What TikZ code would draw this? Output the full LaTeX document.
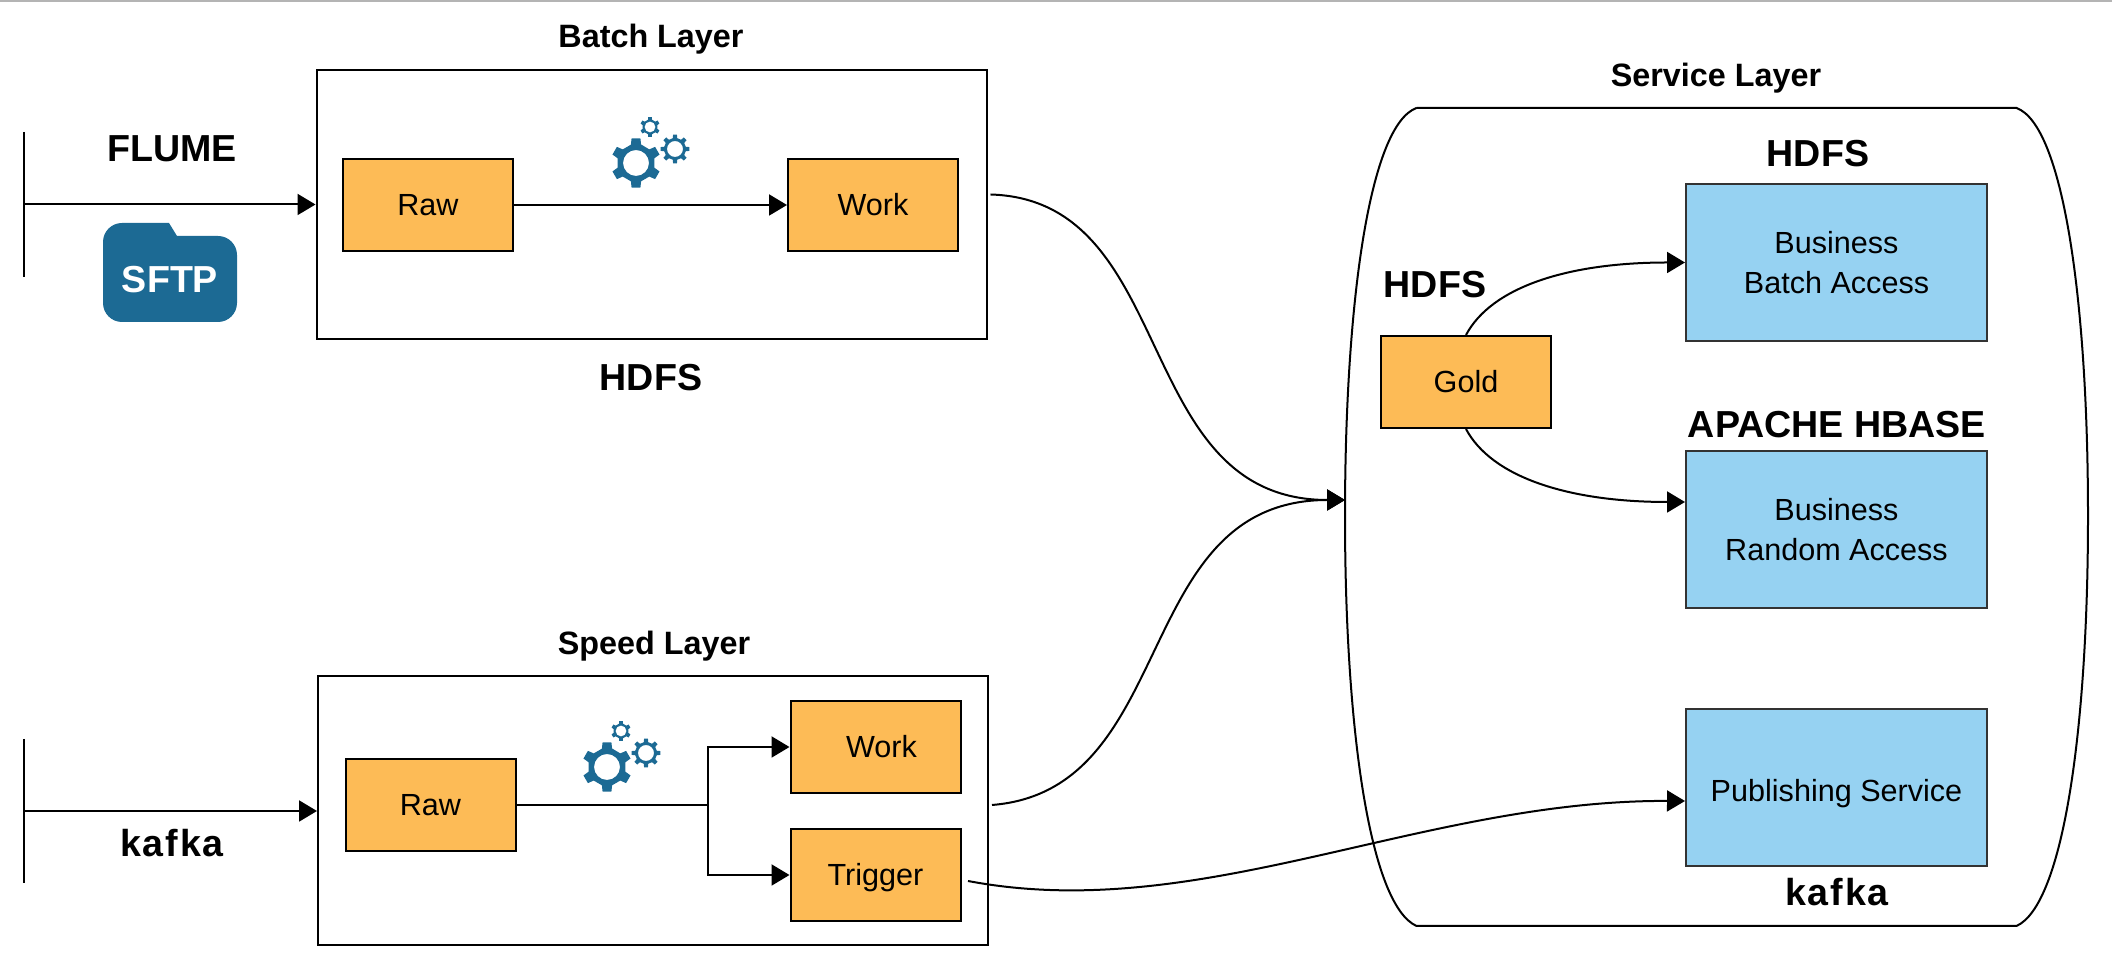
\documentclass[tikz,border=0pt]{standalone}
\usepackage{fontspec}
\setmainfont{Liberation Sans}
\usetikzlibrary{positioning, arrows.meta}

\definecolor{stageorange}{HTML}{FDBB56}
\definecolor{accessblue}{HTML}{96D2F2}
\definecolor{iconblue}{HTML}{1C6A94}
\definecolor{toprule}{HTML}{B4B4B4}

% one gear: teeth, tip radius, root radius, hole radius
\newcommand{\drawgear}[4]{
    \fill[iconblue, even odd rule, line join=round]
        ({90-.3*360/#1}:#3)
        \foreach \k in {0,...,\numexpr#1-1\relax} {
            -- ({90+(\k-.26)*360/#1}:#3) -- ({90+(\k-.17)*360/#1}:#2)
            -- ({90+(\k+.17)*360/#1}:#2) -- ({90+(\k+.26)*360/#1}:#3)
        } -- cycle (0,0) circle (#4);
}

\tikzset{
    layerbox/.style={draw, line width=.02cm, minimum width=6.7cm, minimum height=2.69cm, inner sep=0pt},
    stagebox/.style={draw, line width=.02cm, fill=stageorange, minimum width=1.7cm, minimum height=.92cm, inner sep=0pt, text height=.22cm, text depth=0pt, font=\fontsize{8.7}{11.4}\selectfont},
    accessbox/.style={draw=black!80, line width=.02cm, fill=accessblue, minimum width=3.01cm, minimum height=1.57cm, inner sep=0pt, align=center, font=\fontsize{8.7}{11.4}\selectfont},
    layertitle/.style={anchor=base, inner sep=0pt, font=\fontsize{9.2}{11}\bfseries\selectfont},
    techlabel/.style={anchor=base, inner sep=0pt, font=\fontsize{10.7}{13}\bfseries\selectfont},
    kafkalabel/.style={techlabel, font=\fontsize{10.7}{13}\bfseries\addfontfeatures{LetterSpace=5}\selectfont},
    gearset/.pic={
        \drawgear{6}{.25}{.19}{.13}
        \begin{scope}[shift={(.39,.14)}] \drawgear{8}{.145}{.11}{.08} \end{scope}
        \begin{scope}[shift={(.14,.36)}] \drawgear{6}{.10}{.075}{.055} \end{scope}
    }
}

\begin{document}
\begin{tikzpicture}[>={Triangle[length=.18cm, width=.21cm]}, line width=.02cm, node distance=4.45cm, on grid]
    \useasboundingbox (0,0) rectangle (21.12,9.70);
    \draw[toprule] (0,9.69) -- (21.12,9.69);

    % LAYERS
    \node[layerbox] (batch) at (6.515,7.655) {};
    \node[layerbox] (speed) at (6.53,1.59) {};
    \coordinate (servicein) at (13.45,4.70);
    \draw (14.165,8.62) -- (20.165,8.62)
        .. controls (20.63,8.45) and (20.88,6.70) .. (20.88,4.54)
        .. controls (20.88,2.40) and (20.63,.65) .. (20.165,.44)
        -- (14.165,.44)
        .. controls (13.70,.65) and (13.45,2.40) .. (13.45,4.54)
        .. controls (13.45,6.70) and (13.70,8.45) .. (14.165,8.62);

    % STAGES
    \node[stagebox] (rawbatch) at (4.28,7.65) {Raw};
    \node[stagebox] (workbatch) [right=of rawbatch] {Work};
    \node[stagebox] (rawspeed) at (4.305,1.65) {Raw};
    \node[stagebox] (workspeed) at (8.755,2.23) {\hspace{.12cm}Work};
    \node[stagebox] (triggerspeed) [below=1.28cm of workspeed] {Trigger};
    \node[stagebox] (gold) at (14.66,5.88) {Gold};

    % ACCESS BOXES
    \node[accessbox] (batchaccess) at (18.365,7.075) {Business\\Batch Access};
    \node[accessbox] (randomaccess) at (18.365,4.40) {Business\\Random Access};
    \node[accessbox, text height=.28cm, text depth=0pt] (publishing) at (18.365,1.82) {Publishing Service};

    % TITLES
    \node[layertitle] (batchtitle) at (6.51,9.22) {Batch Layer};
    \node[layertitle] (speedtitle) at (6.54,3.15) {Speed Layer};
    \node[layertitle] (servicetitle) at (17.16,8.83) {Service Layer};
    \node[techlabel] (flume) at (1.72,8.08) {FLUME};
    \node[techlabel] (hdfsbatch) at (6.51,5.79) {HDFS};
    \node[kafkalabel] (kafkasource) at (1.72,1.13) {kafka};
    \node[techlabel] (hdfsaccess) at (18.18,8.03) {HDFS};
    \node[techlabel] (hdfsgold) at (14.35,6.72) {HDFS};
    \node[techlabel] (hbase) at (18.37,5.32) {APACHE HBASE};
    \node[kafkalabel] (kafkaservice) at (18.37,.64) {kafka};

    % ICONS
    \pic at (6.36,8.07) {gearset};
    \pic at (6.07,2.03) {gearset};
    \fill[iconblue] (1.03,6.9) [rounded corners=.19cm] -- (1.03,7.47) [sharp corners] -- (1.69,7.47) -- (1.77,7.34)
        [rounded corners=.19cm] -- (2.37,7.34) -- (2.37,6.48) -- (1.03,6.48) -- cycle;
    \node[techlabel, text=white] (sftp) at (1.70,6.77) {SFTP};

    % SOURCES
    \coordinate (flumetop) at (.24,8.38);
    \coordinate (flumebottom) at (.24,6.93);
    \coordinate (flumein) at (.24,7.655);
    \coordinate (kafkatop) at (.24,2.31);
    \coordinate (kafkabottom) at (.24,.87);
    \coordinate (kafkain) at (.24,1.59);
    \coordinate (split) at (7.08,1.65);
    \draw (flumetop) -- (flumebottom);
    \draw (kafkatop) -- (kafkabottom);

    % TRANSITIONS
    \draw[->] (flumein) -- (batch.west);
    \draw[->] (kafkain) -- (speed.west);
    \draw[->] (rawbatch) -- (workbatch);
    \draw (rawspeed) -- (split);
    \draw[->] (split) |- (workspeed);
    \draw[->] (split) |- (triggerspeed);
    \draw[->] ([xshift=.03cm, yshift=.1cm] batch.east) .. controls (11.80,7.70) and (11.30,4.70) .. (servicein);
    \draw[->] ([xshift=.03cm, yshift=.06cm] speed.east) .. controls (11.80,1.80) and (11.30,4.70) .. (servicein);
    \draw[->] ([xshift=.065cm, yshift=-.06cm] triggerspeed.east) .. controls (12.00,.45) and (14.20,1.70) .. ([yshift=-.13cm] publishing.west);
    \path[->]
        (gold.north) edge [out=62, in=180, out looseness=.6, in looseness=1.3] (batchaccess.west)
        (gold.south) edge [out=-62, in=180, out looseness=.6, in looseness=1.3] ([yshift=.28cm] randomaccess.west);
\end{tikzpicture}
\end{document}
